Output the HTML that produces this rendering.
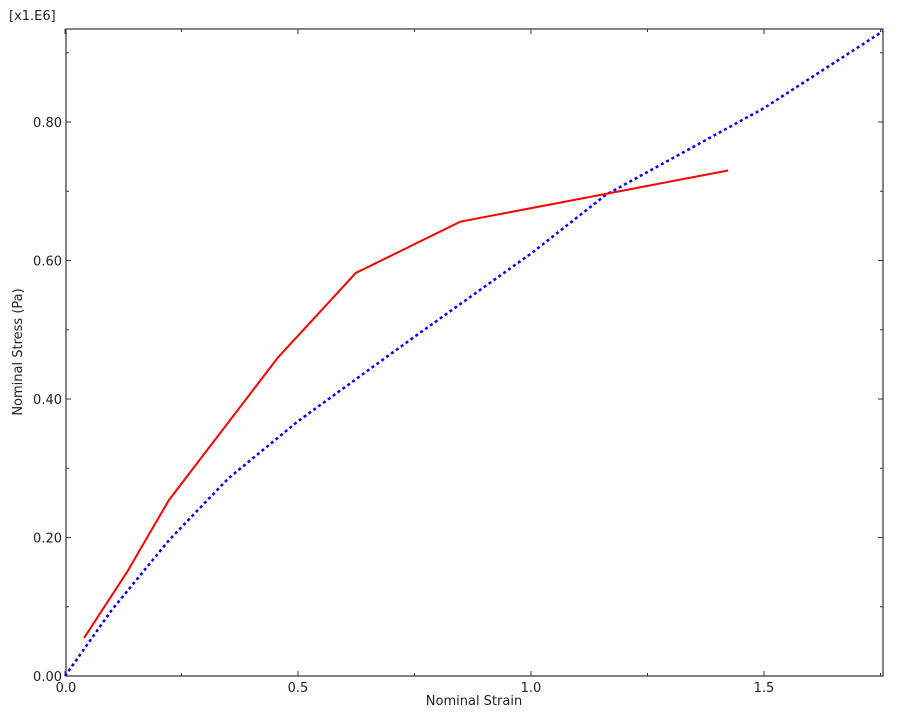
<!DOCTYPE html>
<html><head><meta charset="utf-8"><style>
body{margin:0;background:#fff;}
svg text{font-family:"DejaVu Sans","Liberation Sans",sans-serif;font-size:13px;fill:#222;}
</style></head><body>
<svg id="chart" width="908" height="715">
<g id="axes"></g><g id="series"></g>
</svg>
<script>
const redStrain=[0.041,0.133,0.223,0.457,0.624,0.848,1.423];
const redStress=[0.055,0.150,0.254,0.460,0.582,0.656,0.730];
const blueStrain=[0,0.1,0.223,0.35,0.5,0.75,1.0,1.161,1.5,1.755];
const blueStress=[0,0.095,0.196,0.285,0.368,0.49,0.61,0.695,0.82,0.931];
const xTickLabels=["0.0","0.5","1.0","1.5"];
const yTickLabels=["0.00","0.20","0.40","0.60","0.80"];
const X0=65,Y0=676,L=66,R=883,T=29;
const xs=v=>X0+v*466, ys=v=>Y0-v*692.5;
const NS='http://www.w3.org/2000/svg';
const ax=document.getElementById('axes'), se=document.getElementById('series');
function mk(p,t,a){const e=document.createElementNS(NS,t);for(const k in a)e.setAttribute(k,a[k]);p.appendChild(e);return e;}
const frame=mk(ax,'rect',{x:L,y:T,width:R-L,height:Y0-T,fill:'none',stroke:'#333','stroke-width':1.2});


for(let i=0;i<=7;i++){const x=xs(i*0.25);if(x>R)break;const len=i%2==0?5:3;
 mk(ax,'line',{x1:x,y1:Y0,x2:x,y2:Y0-len,stroke:'#333'});mk(ax,'line',{x1:x,y1:T,x2:x,y2:T+len,stroke:'#333'});}
for(let i=0;i<=9;i++){const y=ys(i*0.1);const len=i%2==0?5:3;
 mk(ax,'line',{x1:L,y1:y,x2:L+len,y2:y,stroke:'#333'});mk(ax,'line',{x1:R,y1:y,x2:R-len,y2:y,stroke:'#333'});}
xTickLabels.forEach((s,i)=>{const t=mk(ax,'text',{x:xs(i*0.5)+(i==0?1:0),y:692,'text-anchor':'middle'});t.textContent=s;
 
 });
yTickLabels.forEach((s,i)=>{const t=mk(ax,'text',{x:62,y:ys(i*0.2)+5,'text-anchor':'end'});t.textContent=s;
 
 });
let t=mk(ax,'text',{x:474,y:705,'text-anchor':'middle'});t.textContent='Nominal Strain';


t=mk(ax,'text',{x:22,y:352,'text-anchor':'middle',transform:'rotate(-90 22 352)'});t.textContent='Nominal Stress (Pa)';


t=mk(ax,'text',{x:9,y:20});t.textContent='[x1.E6]';


function pts(a,b){return a.map((v,i)=>xs(v).toFixed(1)+','+ys(b[i]).toFixed(1)).join(' ');}
const blue=mk(se,'polyline',{points:pts(blueStrain,blueStress),fill:'none',stroke:'#0000ff','stroke-width':2.5,'stroke-dasharray':'3,3'});


const red=mk(se,'polyline',{points:pts(redStrain,redStress),fill:'none',stroke:'#ff0000','stroke-width':2});


</script>
</body></html>
